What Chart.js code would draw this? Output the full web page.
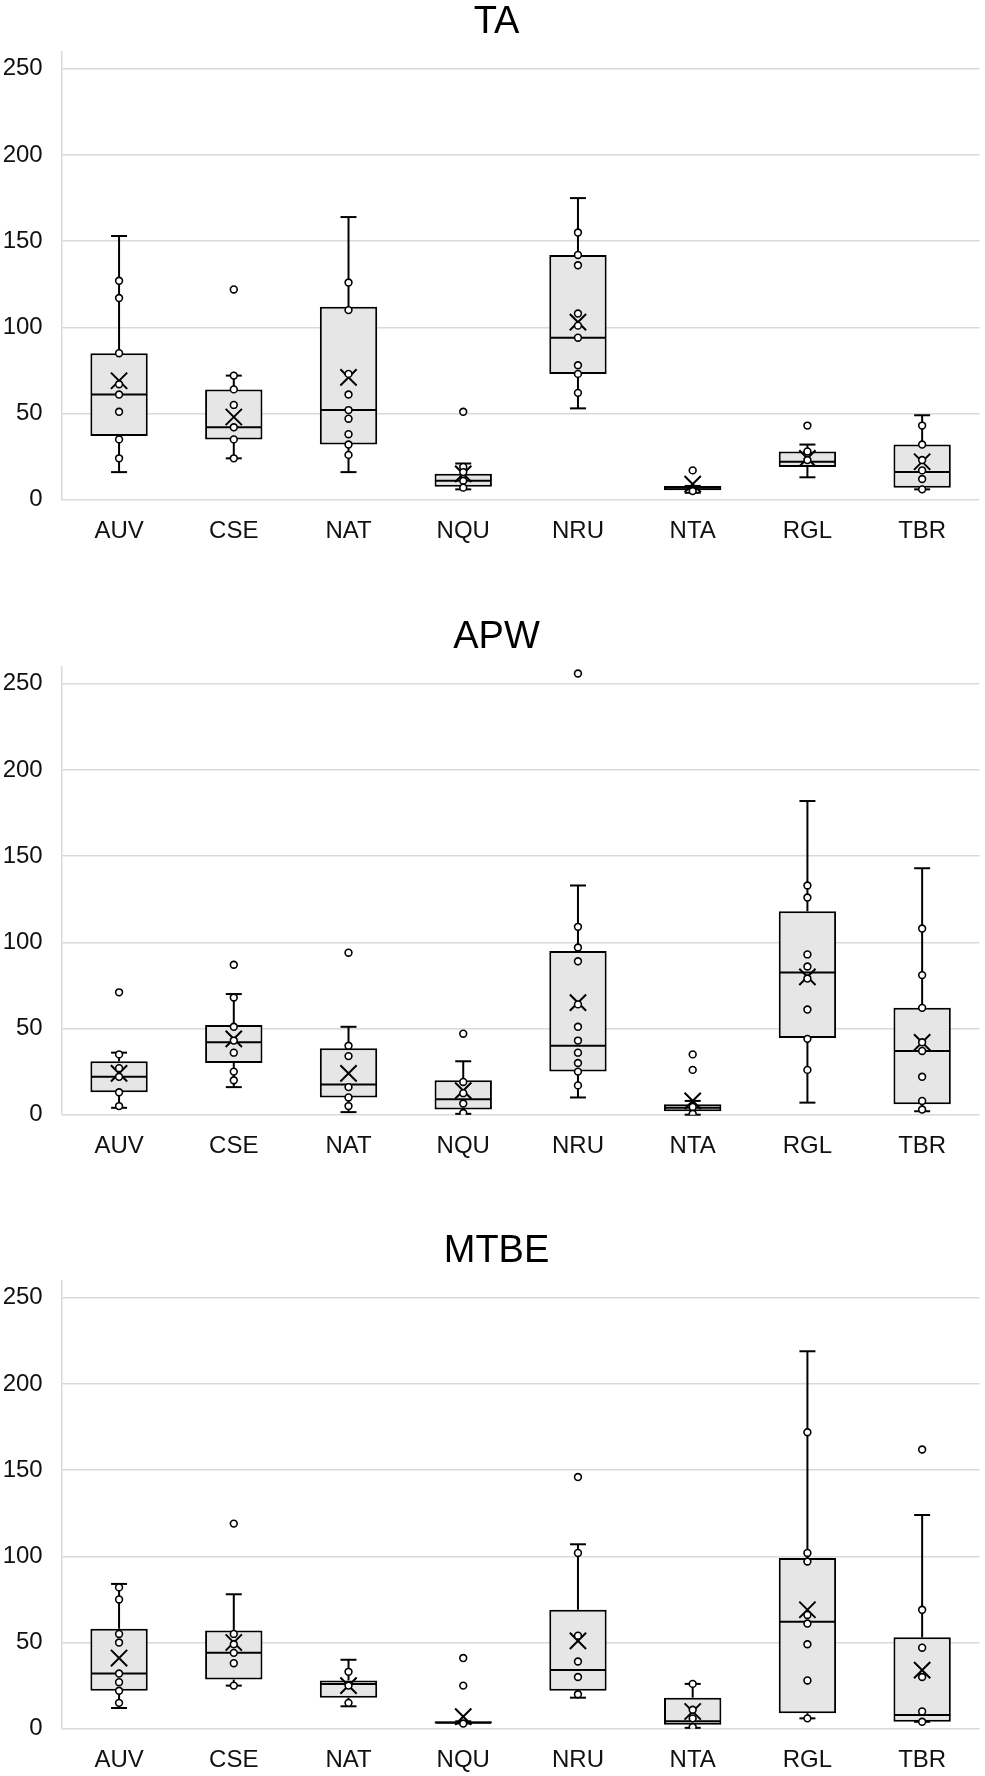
<!DOCTYPE html>
<html lang="en">

<head>
    <meta charset="UTF-8">
    <meta name="viewport" content="width=device-width, initial-scale=1.0">
    <script src="https://cdn.jsdelivr.net/npm/chart.js"></script>
    <title>Box plots</title>
    <style>
        body { margin: 0; overflow: hidden; background: #fff; }
        /* a bit wider than the window: the axes keep ~11px free on the right */
        .panel { position: absolute; left: 0; width: 993px; height: 570px; }
    </style>
</head>

<body>
    <div class="panel" style="top: -10px;"><canvas id="taChart"></canvas></div>
    <div class="panel" style="top: 605px;"><canvas id="apwChart"></canvas></div>
    <div class="panel" style="top: 1219px;"><canvas id="mtbeChart"></canvas></div>

    <script>
        const categories = ['AUV', 'CSE', 'NAT', 'NQU', 'NRU', 'NTA', 'RGL', 'TBR'];
        const yTicks = [0, 50, 100, 150, 200, 250];

        // TA
        const taMin = [16, 24, 16, 6, 53, 4, 13, 6];
        const taQ1 = [37, 35, 32, 7.5, 73, 5.5, 19, 7];
        const taMedian = [61, 42, 52, 11, 94, 7, 22, 16];
        const taQ3 = [85, 64, 112, 15, 142, 8, 28, 32];
        const taMax = [153, 72, 164, 21, 175, 8, 32, 49];
        const taMean = [69, 48, 71, 15, 103, 9, 24, 22];
        const taPoints = [
            [127, 117, 85, 67, 61, 51, 35, 24],
            [122, 72, 64, 55, 42, 35, 24],
            [126, 110, 73, 61, 52, 47, 38, 32, 26],
            [51, 19, 16, 11, 7],
            [155, 142, 136, 108, 101, 94, 78, 73, 62],
            [17, 5],
            [43, 28, 23],
            [43, 32, 23, 17, 12, 6]
        ];

        // APW
        const apwMin = [4, 16, 1.5, 0.5, 10, 0, 7, 2];
        const apwQ1 = [13, 30, 10, 3, 25, 2, 44.5, 6];
        const apwMedian = [22, 42, 17.5, 9, 40, 4, 82.5, 37];
        const apwQ3 = [31, 52, 38.5, 20, 95, 6, 118, 62];
        const apwMax = [36, 70, 51, 31, 133, 8, 182, 143];
        const apwMean = [24, 44, 24, 14, 65, 8, 80, 42];
        const apwPoints = [
            [71, 35, 27, 22, 13, 5],
            [87, 68, 51, 43, 36, 25, 20],
            [94, 40, 34, 16, 10, 5],
            [47, 19, 12.5, 6.5, 1],
            [256, 109, 97, 89, 64, 51, 43, 36, 30, 25, 17],
            [35, 26, 4.5, 0.5],
            [133, 126, 93, 86, 79, 61, 44, 26],
            [108, 81, 62, 42, 37, 22, 8, 3]
        ];

        // MTBE
        const mtbeMin = [12, 25, 13, 3, 18, 0.5, 6, 4];
        const mtbeQ1 = [22, 28.5, 18, 3, 22, 2.3, 9, 4];
        const mtbeMedian = [32, 44, 26, 3.5, 34, 4.3, 62, 8];
        const mtbeQ3 = [58, 57, 28, 4.3, 69, 18, 99, 53];
        const mtbeMax = [84, 78, 40, 4.3, 107, 26, 219, 124];
        const mtbeMean = [41, 50, 25, 7, 51, 10, 69, 34];
        const mtbePoints = [
            [82, 75, 55, 50, 32, 27, 22, 15],
            [119, 55, 49, 44, 38, 25],
            [33, 25, 15],
            [41, 25, 3],
            [146, 102, 54, 39, 30, 20],
            [26, 11, 6, 1],
            [172, 102, 97, 66, 61, 49, 28, 6],
            [162, 69, 47, 30, 10, 4]
        ];

        Chart.defaults.font.family = '"Liberation Sans", Arial, sans-serif';
        Chart.defaults.color = '#111';

        // whiskers, caps and median lines, drawn right after the boxes
        const whiskerPlugin = {
            id: 'whiskers',
            afterDatasetDraw(chart, args) {
                if (args.index !== 0) return;
                const st = chart.data.datasets[0].stats;
                const x = chart.scales.x;
                const y = chart.scales.y;
                const ctx = chart.ctx;
                ctx.save();
                ctx.strokeStyle = '#000';
                ctx.lineWidth = 2;
                st.median.forEach((m, i) => {
                    const cx = x.getPixelForValue(i);
                    const half = args.meta.data[i].width / 2 - 1;
                    const seg = (x1, y1, x2, y2) => {
                        ctx.beginPath();
                        ctx.moveTo(x1, y1);
                        ctx.lineTo(x2, y2);
                        ctx.stroke();
                    };
                    seg(cx, y.getPixelForValue(st.q3[i]), cx, y.getPixelForValue(st.max[i]));
                    seg(cx, y.getPixelForValue(st.q1[i]), cx, y.getPixelForValue(st.min[i]));
                    seg(cx - 8, y.getPixelForValue(st.max[i]), cx + 8, y.getPixelForValue(st.max[i]));
                    seg(cx - 8, y.getPixelForValue(st.min[i]), cx + 8, y.getPixelForValue(st.min[i]));
                    seg(cx - half, y.getPixelForValue(m), cx + half, y.getPixelForValue(m));
                });
                ctx.restore();
            }
        };

        function makeChart(id, title, min, q1, median, q3, max, mean, points) {
            const pointData = [];
            points.forEach((list, i) => list.forEach(v => pointData.push({ x: categories[i], y: v })));

            new Chart(document.getElementById(id).getContext('2d'), {
                type: 'bar',
                data: {
                    labels: categories,
                    datasets: [{
                        data: q1.map((v, i) => [v, q3[i]]),
                        backgroundColor: '#e6e6e6',
                        borderColor: '#000',
                        borderWidth: 2,
                        borderSkipped: false,
                        barPercentage: 0.5,
                        categoryPercentage: 1,
                        grouped: false,
                        order: 3,
                        stats: { min, q1, median, q3, max }
                    }, {
                        type: 'line',
                        data: mean,
                        showLine: false,
                        pointStyle: 'crossRot',
                        pointRadius: 11.5,
                        pointHoverRadius: 11.5,
                        pointBorderColor: '#000',
                        pointBorderWidth: 2,
                        order: 2
                    }, {
                        type: 'line',
                        data: pointData,
                        showLine: false,
                        pointRadius: 3.4,
                        pointHoverRadius: 3.4,
                        pointBackgroundColor: '#fff',
                        pointBorderColor: '#000',
                        pointBorderWidth: 1.6,
                        order: 1
                    }]
                },
                options: {
                    responsive: true,
                    maintainAspectRatio: false,
                    animation: false,
                    layout: { padding: 0 },
                    plugins: {
                        legend: { display: false },
                        tooltip: { enabled: false },
                        title: {
                            display: true,
                            text: title,
                            color: '#000',
                            font: { size: 38, weight: 'normal' },
                            padding: { top: 10, bottom: 6 }
                        }
                    },
                    scales: {
                        x: {
                            grid: { display: false },
                            border: { display: false },
                            ticks: { font: { size: 24 }, padding: 9, color: '#111' },
                            afterFit: (scale) => {
                                scale.height = 60.3;
                                scale.paddingLeft = 0;
                                scale.paddingRight = 0;
                            }
                        },
                        y: {
                            min: 0,
                            max: 260,
                            afterBuildTicks: (scale) => { scale.ticks = yTicks.map(v => ({ value: v })); },
                            grid: { color: '#d9d9d9', lineWidth: 1.5, drawTicks: false },
                            border: { color: '#d9d9d9', width: 1.5 },
                            ticks: { font: { size: 24 }, padding: 19, color: '#111' },
                            afterFit: (scale) => { scale.width = 61.7; }
                        }
                    }
                },
                plugins: [whiskerPlugin]
            });
        }

        makeChart('taChart', 'TA', taMin, taQ1, taMedian, taQ3, taMax, taMean, taPoints);
        makeChart('apwChart', 'APW', apwMin, apwQ1, apwMedian, apwQ3, apwMax, apwMean, apwPoints);
        makeChart('mtbeChart', 'MTBE', mtbeMin, mtbeQ1, mtbeMedian, mtbeQ3, mtbeMax, mtbeMean, mtbePoints);
    </script>
</body>

</html>
